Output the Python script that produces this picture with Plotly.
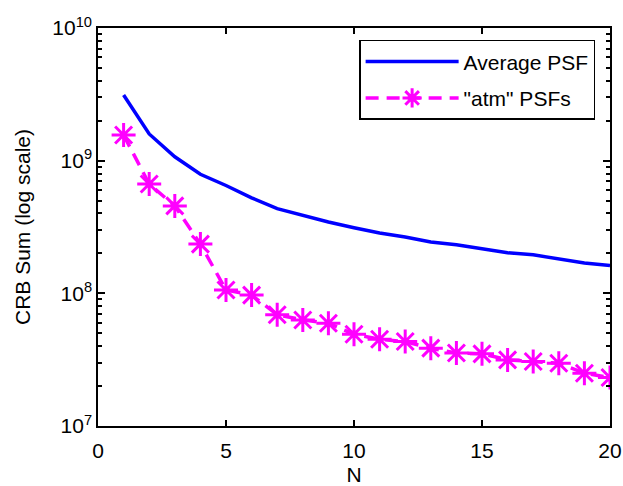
import plotly.graph_objects as go

N = list(range(1, 21))
avg_psf = [3.13e9, 1.59e9, 1.07e9, 7.9e8, 6.5e8, 5.25e8, 4.35e8, 3.85e8, 3.45e8, 3.12e8,
           2.85e8, 2.66e8, 2.44e8, 2.32e8, 2.16e8, 2.02e8, 1.95e8, 1.82e8, 1.69e8, 1.62e8]
atm_psf = [1.56e9, 6.67e8, 4.56e8, 2.35e8, 1.06e8, 9.7e7, 6.9e7, 6.3e7, 5.95e7, 4.92e7,
           4.51e7, 4.33e7, 3.86e7, 3.55e7, 3.5e7, 3.15e7, 3.06e7, 2.97e7, 2.5e7, 2.32e7]

x_ticks = [0, 5, 10, 15, 20]
y_ticks = [1e7, 1e8, 1e9, 1e10]
y_ticktext = ["10<sup>7</sup>", "10<sup>8</sup>", "10<sup>9</sup>", "10<sup>10</sup>"]
y_minor = [m * 10 ** e for e in (7, 8, 9) for m in range(2, 10)]

FONT = "Liberation Sans, Arial, sans-serif"

fig = go.Figure()
fig.add_trace(go.Scatter(x=N, y=avg_psf, mode="lines", name="Average PSF",
                         legendgroup="a",
                         line=dict(color="#0000FF", width=3.5)))
fig.add_trace(go.Scatter(x=N, y=atm_psf, mode="lines+markers", name="\"atm\" PSFs",
                         legendgroup="b",
                         line=dict(color="#FF00FF", width=3.5, dash="13px,8px"),
                         marker=dict(symbol="asterisk-open", size=20, color="#FF00FF",
                                     line=dict(color="#FF00FF", width=3))))

fig.update_layout(
    width=623, height=486,
    margin=dict(l=98, r=13, t=28, b=60),
    paper_bgcolor="white", plot_bgcolor="white",
    font=dict(family=FONT, size=21, color="black"),
    showlegend=True,
    legend=dict(x=0.51, y=0.97, xanchor="left", yanchor="top",
                bgcolor="white", bordercolor="black", borderwidth=1.5,
                font=dict(size=21, family=FONT), tracegroupgap=6,
                itemwidth=93),
)
fig.update_xaxes(range=[0, 20], tickvals=x_ticks, ticks="inside", ticklen=6,
                 tickwidth=1.5, tickcolor="black", automargin=False,
                 showline=True, linecolor="black", linewidth=1.5, mirror="ticks",
                 showgrid=False, zeroline=False, ticklabelstandoff=5,
                 title=dict(text="N", font=dict(size=21), standoff=9),
                 tickfont=dict(size=21))
fig.update_yaxes(type="log", range=[7, 10], tickvals=y_ticks, ticktext=y_ticktext,
                 ticks="inside", ticklen=7, tickwidth=1.5, tickcolor="black",
                 automargin=False,
                 showline=True, linecolor="black", linewidth=1.5, mirror="ticks",
                 showgrid=False, zeroline=False,
                 minor=dict(tickmode="array", tickvals=y_minor, ticks="inside",
                            ticklen=4, tickwidth=1.5, tickcolor="black", showgrid=False),
                 title=dict(text="CRB Sum (log scale)", font=dict(size=21), standoff=16),
                 tickfont=dict(size=21))

fig.write_html("out.html")
